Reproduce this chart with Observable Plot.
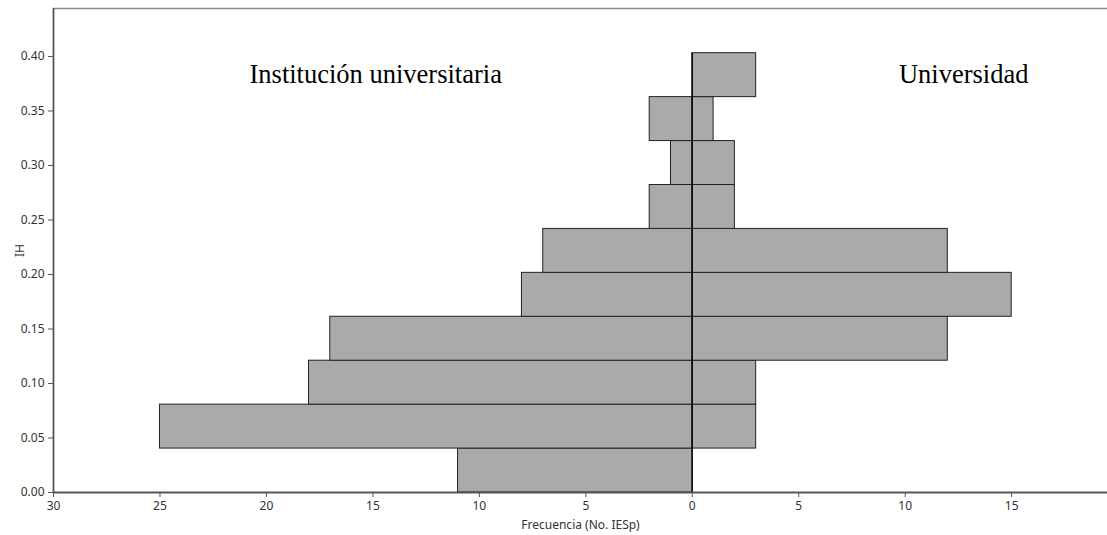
<!DOCTYPE html>
<html>
<head>
<meta charset="utf-8">
<script src="https://cdn.jsdelivr.net/npm/d3@7"></script>
<script src="https://cdn.jsdelivr.net/npm/@observablehq/plot@0.6"></script>
<style>
  html, body { margin: 0; padding: 0; background: #fff; }
  svg { display: block; }
</style>
</head>
<body>
<div id="chart"></div>
<script>
// IH bins (lower and upper edges)
const binLow  = [0.0000, 0.0403, 0.0806, 0.1209, 0.1612, 0.2015, 0.2418, 0.2821, 0.3224, 0.3627];
const binHigh = [0.0403, 0.0806, 0.1209, 0.1612, 0.2015, 0.2418, 0.2821, 0.3224, 0.3627, 0.4030];
// Frequencies
const institucionUniversitaria = [11, 25, 18, 17, 8, 7, 2, 1, 2, 0];
const universidad              = [0, 3, 3, 12, 15, 12, 2, 2, 1, 3];
// Axes
const xTicks = [-30, -25, -20, -15, -10, -5, 0, 5, 10, 15];
const yTicks = [0, 0.05, 0.10, 0.15, 0.20, 0.25, 0.30, 0.35, 0.40];
const groupLabels = ["Institución universitaria", "Universidad"];

const left = binLow.map((lo, i) => ({lo, hi: binHigh[i], n: institucionUniversitaria[i]})).filter(d => d.n > 0);
const right = binLow.map((lo, i) => ({lo, hi: binHigh[i], n: universidad[i]})).filter(d => d.n > 0);

const font = "'Noto Sans', 'Open Sans', sans-serif";
const serif = "'Liberation Serif', 'Times New Roman', serif";

const chart = Plot.plot({
  width: 1107,
  height: 535,
  marginLeft: 53,
  marginTop: 8,
  marginBottom: 43,
  marginRight: 0,
  style: {fontFamily: font, fontSize: "12px", color: "#333", background: "#fff"},
  x: {domain: [-30, 19.5]},
  y: {domain: [0, 0.444]},
  marks: [
    Plot.rect(left, {x1: d => -d.n, x2: 0, y1: "lo", y2: "hi", fill: "#aaaaaa", stroke: "#222", strokeWidth: 1}),
    Plot.rect(right, {x1: 0, x2: "n", y1: "lo", y2: "hi", fill: "#aaaaaa", stroke: "#222", strokeWidth: 1}),
    Plot.ruleX([0], {y1: 0, y2: d3.max(binHigh), stroke: "#000", strokeWidth: 1.2}),
    Plot.ruleY([0.444], {stroke: "#888", strokeWidth: 1.5}),
    Plot.axisX({ticks: xTicks, tickFormat: d => Math.abs(d), tickSize: 5, stroke: "#555", fill: "#333", fontSize: 12, label: "Frecuencia (No. IESp)", labelAnchor: "center", labelArrow: "none", labelOffset: 36}),
    Plot.axisY({ticks: yTicks, tickFormat: d3.format(".2f"), tickSize: 5, stroke: "#555", fill: "#333", fontSize: 12, label: "IH", labelAnchor: "center", labelArrow: "none", labelOffset: 38}),
    Plot.ruleY([0], {stroke: "#555", strokeWidth: 1.8}),
    Plot.ruleX([-30], {stroke: "#555", strokeWidth: 1.8}),
    Plot.text([groupLabels[0]], {frameAnchor: "top-left", textAnchor: "start", lineAnchor: "middle", dx: 196, dy: 66, fontFamily: serif, fontSize: 26.5, fill: "#000"}),
    Plot.text([groupLabels[1]], {frameAnchor: "top-right", textAnchor: "end", lineAnchor: "middle", dx: -79, dy: 66, fontFamily: serif, fontSize: 26.5, fill: "#000"})
  ]
});

document.getElementById("chart").appendChild(chart);
</script>
</body>
</html>
